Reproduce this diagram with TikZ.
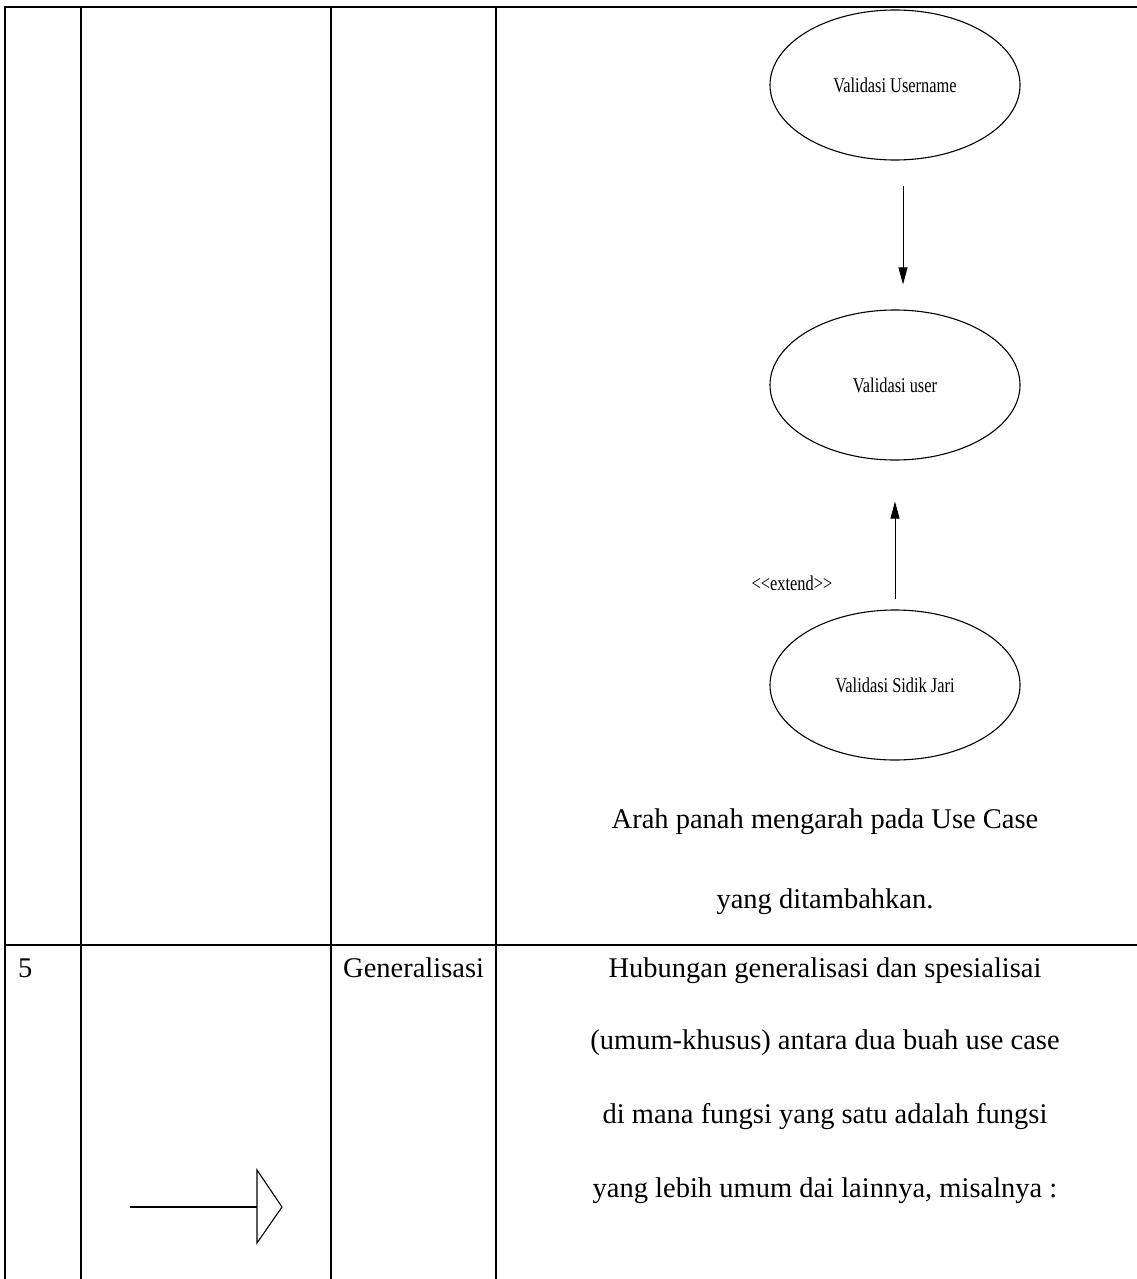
\documentclass[tikz,border=0pt]{standalone}
\usepackage{fontspec}
\setmainfont{Liberation Serif}
\usetikzlibrary{shapes.geometric,arrows.meta}
\tikzset{
  grid/.style={line width=2pt, line cap=rect},
  usecase/.style={draw, ellipse, line width=1.1pt, minimum width=250pt, minimum height=150pt, inner sep=0pt},
  bodytext/.style={font=\fontsize{28.5}{34}\selectfont, inner sep=0pt, anchor=base},
  conn/.style={line width=1pt, -{Triangle[length=17pt,width=9pt]}},
}
\begin{document}
\begin{tikzpicture}[x=1pt,y=-1pt]
\useasboundingbox (0,0) rectangle (1137,1279);
% table grid
\draw[grid] (5,7) -- (1137,7);
\draw[grid] (5,945) -- (1137,945);
\foreach \xx in {5,81,331,496} { \draw[grid] (\xx,7) -- (\xx,1285); }
% use cases
\node[usecase] (uname) at (895,85) {\fontsize{21}{24}\selectfont\scalebox{0.78}[1]{Validasi Username}};
\node[usecase] (uuser) at (895,385) {\fontsize{21}{24}\selectfont\scalebox{0.78}[1]{Validasi user}};
\node[usecase] (usidik) at (895,685) {\fontsize{21}{24}\selectfont\scalebox{0.78}[1]{Validasi Sidik Jari}};
\draw[conn] ([xshift=8pt,yshift=-25pt]uname.south) -- ([xshift=8pt,yshift=25pt]uuser.north);
\draw[conn] ([yshift=10pt]usidik.north) -- ([yshift=-41pt]uuser.south);
\node[inner sep=0pt, anchor=base] (ext) at (792,590) {\fontsize{21}{24}\selectfont\scalebox{0.78}[1]{<{}<extend>{}>}};
% description row 4
\node[bodytext] (d1) at (825,828) {Arah panah mengarah pada Use Case};
\node[bodytext] (d2) at (825,908) {yang ditambahkan.};
% row 5
\node[bodytext, anchor=base west] (num) at (18,977) {5};
\node[bodytext, anchor=base west] (gen) at (343,977) {Generalisasi};
\node[bodytext] (g1) at (825,977) {Hubungan generalisasi dan spesialisai};
\node[bodytext] (g2) at (825,1049) {(umum-khusus) antara dua buah use case};
\node[bodytext] (g3) at (825,1123) {di mana fungsi yang satu adalah fungsi};
\node[bodytext] (g4) at (825,1197) {yang lebih umum dai lainnya, misalnya :};
% generalization symbol
\coordinate (ga) at (130,1207);
\coordinate (gb) at (257,1207);
\coordinate (gt) at (257,1170);
\coordinate (gp) at (282,1207);
\coordinate (gbot) at (257,1243);
\draw[line width=1.1pt] (ga) -- (gb);
\draw[line width=1.1pt, line join=miter] (gt) -- (gp) -- (gbot) -- cycle;
\end{tikzpicture}
\end{document}
